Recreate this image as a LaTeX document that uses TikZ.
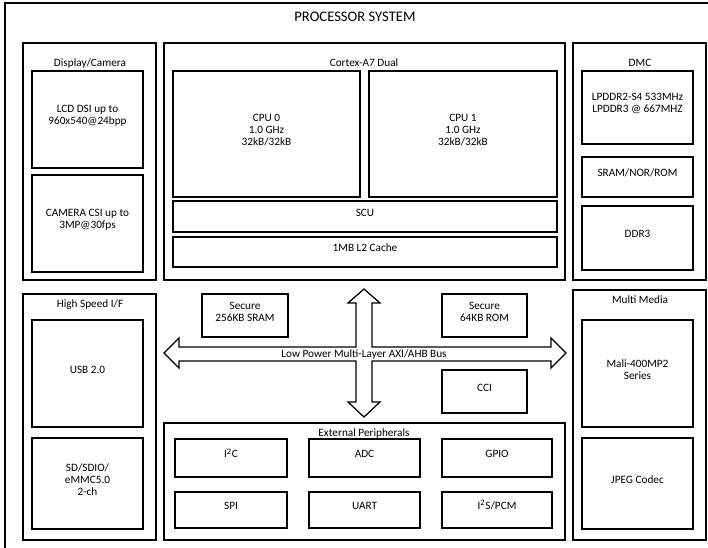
\documentclass[tikz,border=0pt]{standalone}
\usepackage{fontspec}
\setmainfont{Carlito}
\usetikzlibrary{fit}

\begin{document}
\begin{tikzpicture}[
    x=0.025cm, y=-0.025cm,
    box/.style={draw, line width=0.9pt, inner sep=0pt, align=center,
                font=\fontsize{8}{8.6}\selectfont},
    grp/.style={font=\fontsize{8}{8.6}\selectfont},
    bus/.style={draw, line width=0.9pt, line join=miter}
  ]
  \useasboundingbox (0,0) rectangle (708,547);

  % outer frame
  \node[box, fit={(5,3) (712,552)}] (sys) {};
  \node[font=\fontsize{10.4}{12}\selectfont] (title) at (355,17) {PROCESSOR SYSTEM};

  % display / camera
  \node[box, fit={(23,43) (156,280)}] (dispcam) {};
  \node[grp] (dispcam-lbl) at (90,63) {Display/Camera};
  \node[box, fit={(32,71) (143,168)}] (lcd) {LCD DSI up to\\960x540@24bpp};
  \node[box, fit={(32,175) (143,272)}] (camera) {CAMERA CSI up to\\3MP@30fps};

  % cortex
  \node[box, fit={(164,43) (565,280)}] (cortex) {};
  \node[grp] (cortex-lbl) at (364,63) {Cortex-A7 Dual};
  \node[box, fit={(173,71) (360,197)}] (cpu0) {CPU 0\\1.0 GHz\\32kB/32kB};
  \node[box, fit={(369,71) (557,197)}] (cpu1) {CPU 1\\1.0 GHz\\32kB/32kB};
  \node[box, fit={(173,201) (557,232)}] (scu) {SCU};
  \node[box, fit={(173,237) (557,267)}] (ltwo) {1MB L2 Cache};

  % memory controller
  \node[box, fit={(573,43) (706,280)}] (dmc) {};
  \node[grp] (dmc-lbl) at (640,63) {DMC};
  \node[box, fit={(582,71) (693,144)}] (lpddr) {LPDDR2-S4 533MHz\\LPDDR3 @ 667MHZ};
  \node[box, fit={(582,157) (693,197)}] (sram) {SRAM/NOR/ROM};
  \node[box, fit={(582,206) (693,270)}] (ddr) {DDR3};

  % high speed
  \node[box, fit={(23,294) (156,540)}] (hsif) {};
  \node[grp] (hsif-lbl) at (90,305) {High Speed I/F};
  \node[box, fit={(32,320) (143,427)}] (usb) {USB 2.0};
  \node[box, fit={(32,438) (143,529)}] (sdio) {SD/SDIO/\\eMMC5.0\\2-ch};

  % multi media
  \node[box, fit={(573,290) (706,540)}] (media) {};
  \node[grp] (media-lbl) at (640,300) {Multi Media};
  \node[box, fit={(582,320) (693,427)}] (mali) {Mali-400MP2\\Series};
  \node[box, fit={(582,438) (693,529)}] (jpeg) {JPEG Codec};

  % on-chip blocks
  \node[box, fit={(202,294) (288,337)}] (sec-sram) {Secure\\256KB SRAM};
  \node[box, fit={(442,294) (527,337)}] (sec-rom) {Secure\\64KB ROM};
  \node[box, fit={(442,370) (527,413)}] (cci) {CCI};

  % bus
  \draw[bus] (164,353) -- (179,338) -- (179,347) -- (356,347) -- (356,303)
    -- (348,303) -- (364,289) -- (380,303) -- (372,303) -- (372,347)
    -- (551,347) -- (551,338) -- (566,353) -- (551,368) -- (551,361)
    -- (372,361) -- (372,402) -- (380,402) -- (364,417) -- (348,402)
    -- (356,402) -- (356,361) -- (179,361) -- (179,368) -- cycle;
  \node[grp] (bus-lbl) at (364,354) {Low Power Multi-Layer AXI/AHB Bus};

  % peripherals
  \node[box, fit={(164,423) (565,540)}] (periph) {};
  \node[grp] (periph-lbl) at (364,433) {External Peripherals};
  \node[box, fit={(175,439) (287,477)}] (i2c) {I\textsuperscript{2}C};
  \node[box, fit={(309,439) (420,477)}] (adc) {ADC};
  \node[box, fit={(442,439) (552,477)}] (gpio) {GPIO};
  \node[box, fit={(175,492) (287,528)}] (spi) {SPI};
  \node[box, fit={(309,492) (420,528)}] (uart) {UART};
  \node[box, fit={(442,492) (552,528)}] (i2s) {I\textsuperscript{2}S/PCM};
\end{tikzpicture}
\end{document}
